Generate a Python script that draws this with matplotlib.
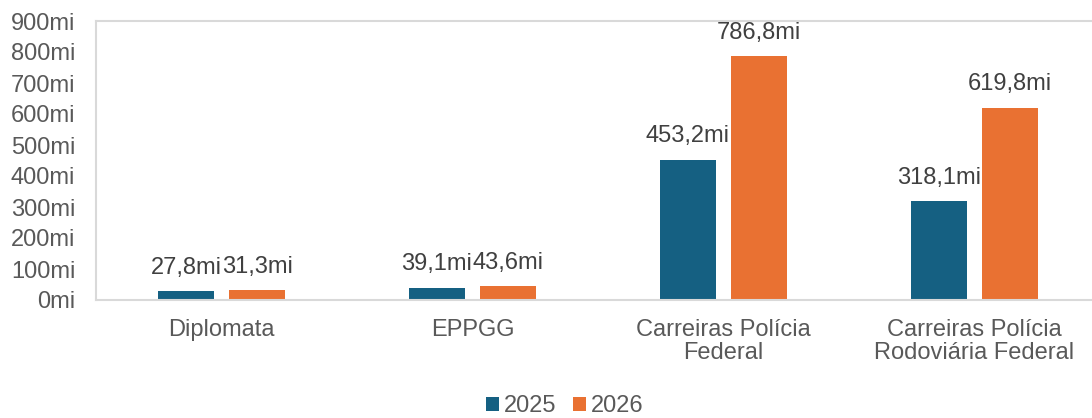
import numpy as np
import matplotlib.pyplot as plt

plt.rcParams['font.family'] = ['Liberation Sans', 'DejaVu Sans']

# dados (em milhões)
categorias = ['Diplomata', 'EPPGG', 'Carreiras Polícia\nFederal', 'Carreiras Polícia\nRodoviária Federal']
anos = ['2025', '2026']
valores_2025 = [27.8, 39.1, 453.2, 318.1]
valores_2026 = [31.3, 43.6, 786.8, 619.8]

cor_2025 = '#156082'
cor_2026 = '#E97132'
cinza = '#595959'

fig = plt.figure(figsize=(10.92, 4.18), dpi=100)
ax = fig.add_axes([96 / 1092, 1 - 300 / 418, 1004 / 1092, 279 / 418])

x = np.arange(len(categorias))
w = 0.223
gap = 0.06

b1 = ax.bar(x - (w + gap) / 2, valores_2025, w, color=cor_2025, label=anos[0])
b2 = ax.bar(x + (w + gap) / 2, valores_2026, w, color=cor_2026, label=anos[1])

def fmt(v):
    return ('%.1f' % v).replace('.', ',') + 'mi'

ax.bar_label(b1, labels=[fmt(v) for v in valores_2025], padding=9, fontsize=17, color='#404040')
ax.bar_label(b2, labels=[fmt(v) for v in valores_2026], padding=9, fontsize=17, color='#404040')

ax.set_xlim(-0.5, len(categorias) - 0.5)
ax.set_ylim(0, 900)
ax.set_yticks(np.arange(0, 901, 100))
ax.set_yticklabels(['%dmi' % t for t in np.arange(0, 901, 100)])
ax.set_xticks(x)
ax.set_xticklabels(categorias, linespacing=1.05)

ax.tick_params(axis='y', length=0, pad=15, labelsize=17, labelcolor=cinza)
ax.tick_params(axis='x', length=0, pad=14, labelsize=17, labelcolor=cinza)

for s in ax.spines.values():
    s.set_color('#D9D9D9')
    s.set_linewidth(1.5)

fig.legend(loc='center', bbox_to_anchor=(565 / 1092, 1 - 406 / 418), ncol=2, frameon=False,
           fontsize=17, labelcolor=cinza, handlelength=0.55, handleheight=0.55,
           handletextpad=0.2, columnspacing=0.7, borderpad=0.1)

fig.savefig('out.png', dpi=100)
